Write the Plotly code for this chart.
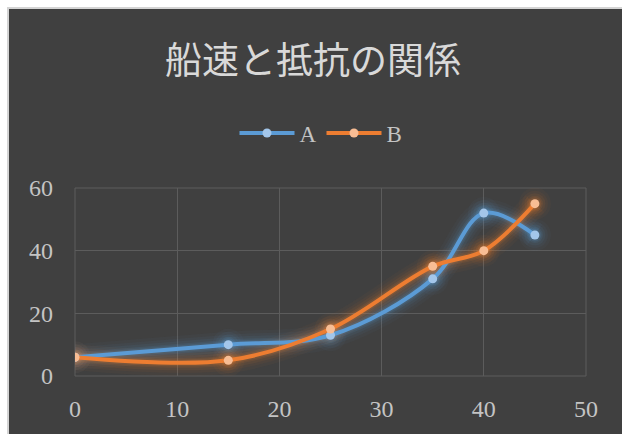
import plotly.graph_objects as go

# Ship speed vs. resistance
speed = [0, 15, 25, 35, 40, 45]
resist_a = [6, 10, 13, 31, 52, 45]
resist_b = [6, 5, 15, 35, 40, 55]

series_names = ["A", "B"]
title_text = "船速と抵抗の関係"

line_colors = {"A": "#5b9bd5", "B": "#ed7d31"}
marker_colors = {"A": "#a3c6ea", "B": "#f8bd94"}
glow_colors = {"A": "91,155,213", "B": "237,125,49"}

W, H = 622, 434
L, R, T, B = 75, 36, 188, 58
plot_w = W - L - R
plot_h = H - T - B


def px_x(p):
    return (p - L) / plot_w


def px_y(p):
    return (H - B - p) / plot_h


fig = go.Figure()

# soft glow underneath each series
for name, ys in zip(series_names, [resist_a, resist_b]):
    rgb = glow_colors[name]
    for w, a in [(26, 0.04), (20, 0.05), (15, 0.07), (10, 0.10), (7, 0.14)]:
        fig.add_trace(go.Scatter(
            x=speed, y=ys, mode="lines+markers",
            line=dict(color=f"rgba({rgb},{a})", width=w, shape="spline", smoothing=1),
            marker=dict(size=w + 6, color=f"rgba({rgb},{a})"),
            hoverinfo="skip", showlegend=False,
        ))

for name, ys in zip(series_names, [resist_a, resist_b]):
    fig.add_trace(go.Scatter(
        x=speed, y=ys, name=name, mode="lines+markers",
        line=dict(color=line_colors[name], width=4, shape="spline", smoothing=1),
        marker=dict(size=9, color=marker_colors[name]),
    ))

grid = "#5c5c5c"
tick_font = dict(family="Liberation Serif, serif", size=24, color="#c4c4c4")

fig.update_xaxes(
    range=[0, 50], dtick=10, tick0=0,
    showgrid=True, gridcolor=grid, gridwidth=1,
    zeroline=False, showline=False,
    tickfont=tick_font, ticklabelstandoff=16,
    fixedrange=True,
)
fig.update_yaxes(
    range=[0, 60], dtick=20, tick0=0,
    showgrid=True, gridcolor=grid, gridwidth=1,
    zeroline=False, showline=False,
    tickfont=tick_font, ticklabelstandoff=21,
    fixedrange=True,
)

shapes = [
    # plot frame
    dict(type="rect", xref="paper", yref="paper", x0=0, x1=1, y0=0, y1=1,
         line=dict(color=grid, width=1), layer="below"),
    # light outer border on top and left
    dict(type="rect", xref="paper", yref="paper",
         x0=px_x(-5), x1=px_x(W + 5), y0=px_y(7), y1=px_y(-5),
         fillcolor="#ffffff", line=dict(width=0)),
    dict(type="rect", xref="paper", yref="paper",
         x0=px_x(-5), x1=px_x(7), y0=px_y(H + 5), y1=px_y(-5),
         fillcolor="#ffffff", line=dict(width=0)),
    dict(type="rect", xref="paper", yref="paper",
         x0=px_x(7), x1=px_x(W + 5), y0=px_y(9), y1=px_y(7),
         fillcolor="#d4d4d4", line=dict(width=0)),
    dict(type="rect", xref="paper", yref="paper",
         x0=px_x(7), x1=px_x(9), y0=px_y(H + 5), y1=px_y(7),
         fillcolor="#d4d4d4", line=dict(width=0)),
]

fig.update_layout(
    width=W, height=H,
    margin=dict(l=L, r=R, t=T, b=B, autoexpand=False),
    paper_bgcolor="#404040", plot_bgcolor="#404040",
    title=dict(
        text=title_text, x=313 / W, xanchor="center",
        y=1 - 61 / H, yanchor="middle",
        font=dict(family="Noto Sans CJK JP", size=37, color="#d9d9d9", weight=400),
    ),
    legend=dict(
        orientation="h", x=px_x(321), xanchor="center",
        y=px_y(133), yanchor="middle",
        font=dict(family="Liberation Serif, serif", size=23, color="#c4c4c4"),
        bgcolor="rgba(0,0,0,0)", itemwidth=55, traceorder="normal",
    ),
    shapes=shapes,
    showlegend=True,
)

fig.write_html("out.html")
